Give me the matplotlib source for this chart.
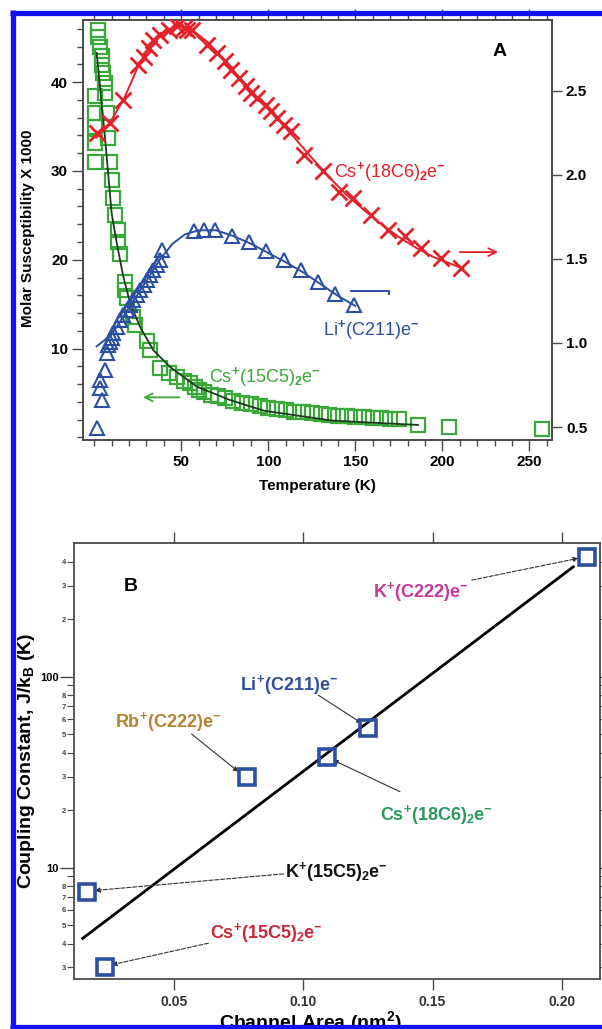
import numpy as np
import matplotlib
matplotlib.use("Agg")
import matplotlib.pyplot as plt
from matplotlib.lines import Line2D
from matplotlib.ticker import FixedLocator, MultipleLocator, FuncFormatter

plt.rcParams['font.family'] = ['Liberation Sans', 'DejaVu Sans']
plt.rcParams['font.weight'] = 'bold'
plt.rcParams['mathtext.fontset'] = 'custom'
plt.rcParams['mathtext.rm'] = 'Liberation Sans'
plt.rcParams['mathtext.bf'] = 'Liberation Sans:bold'
plt.rcParams['mathtext.it'] = 'Liberation Sans:italic'

# ---- panel A data: Cs+(15C5)2e- (left axis), chi x 1000
green_T = [2.3, 2.3, 3.3, 4.2, 4.2, 5.2, 6.1, 6.1, 0.5, 0.5, 7.1, 0.5, 7.9, 0.5, 0.5,
           9.1, 10.0, 11.0, 12.0, 13.8, 13.8, 14.8, 17.7, 17.7, 18.7, 22.5, 23.5,
           30.2, 32.1, 37.9, 42.7, 47.5, 51.4, 55.2, 58.1, 60.0, 63, 67, 71, 75, 80,
           85, 90, 95, 100, 105, 110, 115, 120, 125, 130, 135, 140, 145, 150, 155,
           160, 165, 170, 175, 186, 204, 257]
green_chi = [45.9, 45.1, 44.0, 42.9, 41.9, 41.0, 39.9, 38.8, 38.4, 36.5, 36.5, 34.9,
             33.7, 33.2, 31.0, 31.0, 29.0, 27.0, 25.0, 23.3, 22.0, 20.7, 17.5, 16.6,
             15.7, 13.6, 12.6, 10.9, 9.8, 7.8, 7.2, 6.8, 6.4, 6.1, 5.7, 5.3, 5.1,
             4.8, 4.6, 4.4, 4.1, 3.9, 3.7, 3.5, 3.35, 3.2, 3.05, 2.9, 2.8, 2.7, 2.6,
             2.5, 2.4, 2.35, 2.3, 2.25, 2.2, 2.15, 2.1, 2.05, 1.35, 1.2, 0.9]
green_fit_T = [1.4, 6.2, 10.0, 12.9, 16.7, 20.6, 26.4, 34.0, 43.7, 59.0, 78.0, 97.5,
               136.0, 160.0, 186.0]
green_fit_chi = [43.3, 33.7, 25.2, 21.9, 18.1, 15.1, 12.4, 9.8, 7.9, 5.7, 4.2, 3.0,
                 1.9, 1.65, 1.4]

# Cs+(18C6)2e- (right axis)
red_T = [1.4, 9.1, 16.7, 25.4, 28.3, 31.2, 34.0, 37.9, 42.7, 47.5, 51.4, 53.3, 56.2,
         64.9, 70.6, 75.4, 78.3, 83.1, 87.0, 89.8, 93.7, 98.5, 101.4, 105.2, 109.1,
         112.9, 120.6, 131.2, 140.8, 148.5, 159.1, 168.7, 178.3, 187.9, 199.5, 211.0]
red_val = [2.248, 2.31, 2.446, 2.655, 2.70, 2.754, 2.80, 2.833, 2.863, 2.883, 2.873,
           2.863, 2.863, 2.774, 2.724, 2.674, 2.625, 2.576, 2.526, 2.486, 2.457, 2.417,
           2.377, 2.338, 2.298, 2.258, 2.119, 2.02, 1.90, 1.861, 1.762, 1.673, 1.633,
           1.564, 1.504, 1.445]
red_fit_T = [1, 9, 17, 25, 32, 40, 48, 55, 65, 75, 85, 95, 105, 115, 125, 135, 145,
             155, 165, 175, 185, 195, 205, 212]
red_fit_val = [2.22, 2.31, 2.45, 2.64, 2.77, 2.85, 2.885, 2.87, 2.79, 2.68, 2.56,
               2.445, 2.335, 2.22, 2.10, 1.985, 1.88, 1.79, 1.705, 1.63, 1.565, 1.51,
               1.47, 1.44]

# Li+(C211)e- (right axis)
blue_T = [1.4, 3.3, 3.3, 4.3, 6.2, 7.2, 8.1, 9.1, 10.0, 11.0, 12.9, 14.8, 16.7, 18.7,
          20.6, 22.5, 24.5, 26.4, 28.3, 30.2, 32.1, 34.0, 36.0, 37.9, 38.9, 57.1,
          62.9, 69.6, 79.3, 88.9, 98.5, 109.0, 118.7, 128.3, 138.5, 149.5]
blue_val = [0.492, 0.78, 0.73, 0.661, 0.839, 0.939, 0.988, 1.008, 1.028, 1.058, 1.097,
            1.137, 1.167, 1.196, 1.226, 1.256, 1.286, 1.315, 1.345, 1.375, 1.405,
            1.435, 1.464, 1.494, 1.554, 1.663, 1.673, 1.673, 1.633, 1.603, 1.544,
            1.494, 1.435, 1.365, 1.29, 1.226]
blue_fit_T = [1.4, 10, 20, 30, 38, 45, 52, 60, 70, 80, 90, 100, 110, 120, 130, 140, 150]
blue_fit_val = [0.98, 1.05, 1.21, 1.37, 1.50, 1.59, 1.645, 1.67, 1.67, 1.635, 1.59,
                1.535, 1.48, 1.42, 1.35, 1.28, 1.22]

# ---- panel B data
compounds = [r'K$^{\mathbf{+}}$(C222)e$^{\mathbf{-}}$',
             r'Li$^{\mathbf{+}}$(C211)e$^{\mathbf{-}}$',
             r'Cs$^{\mathbf{+}}$(18C6)$_{\mathbf{2}}$e$^{\mathbf{-}}$',
             r'Rb$^{\mathbf{+}}$(C222)e$^{\mathbf{-}}$',
             r'K$^{\mathbf{+}}$(15C5)$_{\mathbf{2}}$e$^{\mathbf{-}}$',
             r'Cs$^{\mathbf{+}}$(15C5)$_{\mathbf{2}}$e$^{\mathbf{-}}$']
area = [0.2097, 0.1252, 0.1091, 0.0781, 0.0162, 0.0233]
coupling = [424, 53.7, 38.1, 29.9, 7.48, 3.03]
fit_area = [0.01466, 0.2045]
fit_coupling = [4.26, 377]

label_colors = ['#c4379b', '#2f4f98', '#2a9a5c', '#b5832f', '#111111', '#c8283c']
label_xy = [(0.1271, 277.6), (0.0755, 90.5), (0.1297, 18.9), (0.0272, 57.9),
            (0.0929, 9.53), (0.0639, 4.55)]
leader_from = [(0.1652, 320.8), (0.1058, 80.1), (0.1374, 25.0), (0.0568, 50.1),
               (0.0923, 9.27), (0.0633, 4.02)]
leader_to = [(0.2064, 417), (0.1226, 57.1), (0.1115, 36.6), (0.0749, 31.8),
             (0.0194, 7.59), (0.0259, 3.10)]
leader_style = ['--', '-', '-', '-', '--', '--']

RED = '#e5202b'
GREEN = '#3aa83a'
BLUE = '#2b4fa3'
SPINE = '#4a4a4a'

fig = plt.figure(figsize=(6.02, 10.29), dpi=100)
W, H = 602.0, 1029.0

# ================= panel A
axA = fig.add_axes([83.3 / W, 1 - 440 / H, 468.7 / W, 420 / H])
axR = axA.twinx()

axA.plot(green_T, green_chi, linestyle='none', marker='s', ms=9.5, mfc='none',
         mec=GREEN, mew=1.6, zorder=3)
axA.plot(green_fit_T, green_fit_chi, color='#1d3a1d', lw=1.3, zorder=4)

axR.plot(red_fit_T, red_fit_val, color=RED, lw=1.4, zorder=3)
axR.plot(red_T, red_val, linestyle='none', marker='x', ms=11, mec=RED, mew=2.0, zorder=4)
axR.plot(blue_fit_T, blue_fit_val, color=BLUE, lw=1.4, zorder=3)
axR.plot(blue_T, blue_val, linestyle='none', marker='^', ms=9.5, mfc='none', mec=BLUE,
         mew=1.5, zorder=4)

axA.set_xlim(-6.3, 263)
axA.set_ylim(-0.3, 47)
axR.set_ylim(0.423, 2.92)

axA.xaxis.set_major_locator(FixedLocator([50, 100, 150, 200, 250]))
axA.xaxis.set_minor_locator(MultipleLocator(10))
axA.yaxis.set_major_locator(FixedLocator([10, 20, 30, 40]))
axA.yaxis.set_minor_locator(MultipleLocator(2))
axR.yaxis.set_major_locator(FixedLocator([0.5, 1.0, 1.5, 2.0, 2.5]))
axR.yaxis.set_major_formatter(FuncFormatter(lambda v, p: '%.1f' % v))

axA.tick_params(axis='both', which='major', direction='out', length=8, width=1.0,
                labelsize=11, color=SPINE, pad=3)
axA.tick_params(axis='both', which='minor', direction='out', length=4, width=1.0,
                color=SPINE)
axA.tick_params(axis='x', which='both', top=True)
axR.tick_params(axis='y', which='major', direction='out', length=7, width=1.0,
                labelsize=11, color=SPINE, pad=3)

for ax in (axA, axR):
    for s in ax.spines.values():
        s.set_color(SPINE)
        s.set_linewidth(1.2)

axA.set_xlabel('Temperature (K)', fontsize=11, fontweight='bold')
axA.xaxis.set_label_coords(0.5, -0.093)
axA.set_ylabel('Molar Susceptibility X 1000', fontsize=11, fontweight='bold')
axA.yaxis.set_label_coords(-0.102, 0.505)

axA.text(0.889, 0.924, 'A', transform=axA.transAxes, fontsize=14, fontweight='bold',
         ha='center', va='center')

axR.text(137.7, 2.018, r'Cs$^{+}$(18C6)$_{2}$e$^{-}$', color=RED, fontsize=13,
         fontweight='normal', ha='left', va='center')
axA.text(65.7, 6.76, r'Cs$^{+}$(15C5)$_{2}$e$^{-}$', color=GREEN, fontsize=13,
         fontweight='normal', ha='left', va='center')
axR.text(131.5, 1.077, r'Li$^{+}$(C211)e$^{-}$', color=BLUE, fontsize=13,
         fontweight='normal', ha='left', va='center')

# axis indicator arrows
axR.annotate('', xy=(232, 1.54), xytext=(210, 1.54),
             arrowprops=dict(arrowstyle='->', color=RED, lw=1.3, mutation_scale=14,
                             shrinkA=0, shrinkB=0))
axA.annotate('', xy=(28, 4.5), xytext=(49, 4.5),
             arrowprops=dict(arrowstyle='->', color=GREEN, lw=1.3, mutation_scale=14,
                             shrinkA=0, shrinkB=0))
axR.plot([147.5, 169.4, 169.4], [1.311, 1.311, 1.29], color=BLUE, lw=1.4)

# ================= panel B
axB = fig.add_axes([74 / W, 1 - 979.3 / H, 526 / W, 436 / H])
axB.set_yscale('log')
axB.plot(fit_area, fit_coupling, color='black', lw=2.0, zorder=3)
axB.plot(area, coupling, linestyle='none', marker='s', ms=12, mfc='none', mec=BLUE,
         mew=2.6, zorder=4)

for name, col, xy, a0, a1, ls in zip(compounds, label_colors, label_xy, leader_from,
                                     leader_to, leader_style):
    axB.text(xy[0], xy[1], name, color=col, fontsize=13, fontweight='bold',
             ha='left', va='center')
    axB.annotate('', xy=a1, xytext=a0,
                 arrowprops=dict(arrowstyle='-|>', color='#333333', lw=0.8,
                                 linestyle=ls, mutation_scale=7, shrinkA=0, shrinkB=0))

axB.set_xlim(0.0113, 0.2148)
axB.set_ylim(2.6, 500)

axB.xaxis.set_major_locator(FixedLocator([0.05, 0.10, 0.15, 0.20]))
axB.xaxis.set_major_formatter(FuncFormatter(lambda v, p: '%.2f' % v))
axB.yaxis.set_major_locator(FixedLocator([10, 100]))
axB.yaxis.set_major_formatter(FuncFormatter(lambda v, p: '%d' % round(v)))
minor_vals = [3, 4, 5, 6, 7, 8, 9, 20, 30, 40, 50, 60, 70, 80, 90, 200, 300, 400]
axB.yaxis.set_minor_locator(FixedLocator(minor_vals))


def minor_label(v, p):
    lead = int(round(v / 10 ** np.floor(np.log10(v))))
    return str(lead) if 2 <= lead <= 8 else ''


axB.yaxis.set_minor_formatter(FuncFormatter(minor_label))

axB.tick_params(axis='x', which='major', direction='out', length=8, width=1.0,
                labelsize=10, color=SPINE, labelcolor='#333333', pad=3, top=True)
axB.tick_params(axis='y', which='major', direction='out', length=10, width=1.0,
                labelsize=8, color=SPINE, pad=1, right=True)
axB.tick_params(axis='y', which='minor', direction='out', length=5, width=0.8,
                labelsize=5.5, color=SPINE, labelcolor='#444444', pad=1, right=True)
for s in axB.spines.values():
    s.set_color(SPINE)
    s.set_linewidth(1.3)

axB.set_xlabel(r'Channel Area (nm$^{\mathbf{2}}$)', fontsize=14, fontweight='bold')
axB.xaxis.set_label_coords(0.449, -0.069)
axB.set_ylabel(r'Coupling Constant, J/k$_{\mathbf{B}}$ (K)', fontsize=14,
               fontweight='bold')
axB.yaxis.set_label_coords(-0.070, 0.5)
axB.text(0.108, 0.902, 'B', transform=axB.transAxes, fontsize=14, fontweight='bold',
         ha='center', va='center')

# blue frame around the figure (right edge falls off the picture)
border = dict(transform=fig.transFigure, color='#1212f2', lw=3.8, zorder=20,
              solid_capstyle='butt')
fig.add_artist(Line2D([12.5 / W, 12.5 / W], [1 - 10 / H, 1 - 1029 / H], **border))
fig.add_artist(Line2D([10 / W, 1.0], [1 - 12.5 / H, 1 - 12.5 / H], **border))
fig.add_artist(Line2D([10 / W, 1.0], [1 - 1027 / H, 1 - 1027 / H], **border))

fig.savefig('out.png', dpi=100)
